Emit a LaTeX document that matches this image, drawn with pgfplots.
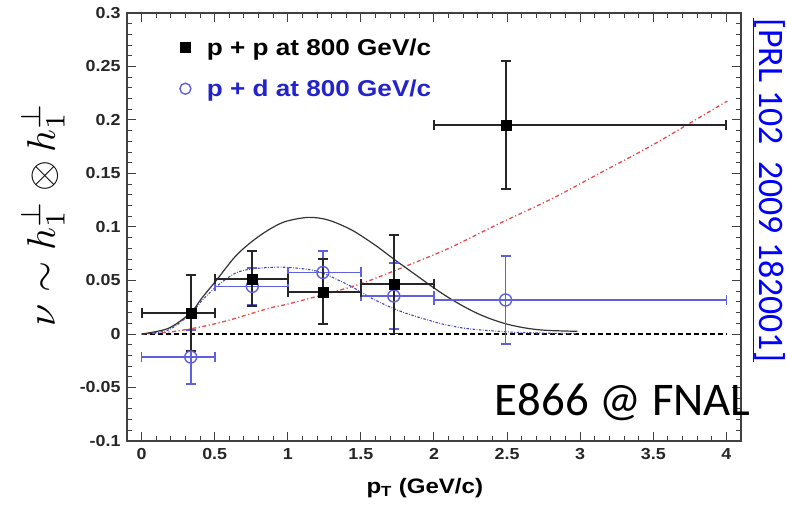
\documentclass[border=0pt]{standalone}
\usepackage[no-math]{fontspec}
\setmainfont{Liberation Sans}
\newfontfamily\carlito{Carlito}
\usepackage{graphicx}
\usepackage{pgfplots}
\pgfplotsset{compat=1.18}
\definecolor{blueD}{RGB}{95,95,225}
\definecolor{blueC}{RGB}{70,70,190}
\definecolor{blueT}{RGB}{35,35,205}
\definecolor{redC}{RGB}{228,75,75}
\newcommand\sx[1]{\scalebox{1.12}[1]{#1}}

\pgfplotstableread{
x     y       xm     xp     ey
0.336 0.0197  0.336  0.164  0.0355
0.757 0.0516  0.257  0.243  0.0256
1.240 0.0395  0.240  0.260  0.0305
1.725 0.0465  0.225  0.275  0.0460
2.495 0.1955  0.495  1.505  0.0600
}\pp
\pgfplotstableread{
x     y        xm     xp     ey
0.336 -0.0215  0.336  0.164  0.0250
0.757 0.0445   0.257  0.243  0.0170
1.240 0.0575   0.240  0.260  0.0200
1.725 0.0355   0.225  0.275  0.0310
2.490 0.0318   0.490  1.510  0.0410
}\pd

\begin{document}
\begin{tikzpicture}
\useasboundingbox (-127bp,-64bp) rectangle (660bp,441bp);
\begin{axis}[
  at={(0,0)}, anchor=south west,
  scale only axis, width=614bp, height=428bp,
  xmin=-0.1, xmax=4.1, ymin=-0.1, ymax=0.3,
  clip=false,
  xtick={0,0.5,1,1.5,2,2.5,3,3.5,4},
  xticklabels={\sx{0},\sx{0.5},\sx{1},\sx{1.5},\sx{2},\sx{2.5},\sx{3},\sx{3.5},\sx{4}},
  ytick={-0.1,-0.05,0,0.05,0.1,0.15,0.2,0.25,0.3},
  yticklabels={\sx{-0.1},\sx{-0.05},\sx{0},\sx{0.05},\sx{0.1},\sx{0.15},\sx{0.2},\sx{0.25},\sx{0.3}},
  minor xtick={-0.1,0,...,4.1},
  minor ytick={-0.1,-0.09,...,0.3},
  tick align=inside,
  major tick length=9bp, minor tick length=5bp,
  every tick/.style={black!75, line width=1bp},
  axis line style={black!75, line width=1.3bp},
  xticklabel style={font=\fontsize{16}{19}\selectfont\bfseries, text=black!85, yshift=-4bp},
  yticklabel style={font=\fontsize{16}{19}\selectfont\bfseries, text=black!85, xshift=-3bp},
  legend style={at={(rel axis cs:0.081,0.950)}, anchor=north west, draw=none, fill=none,
    font=\fontsize{23}{27}\selectfont\bfseries, row sep=19bp, column sep=14bp},
  legend cell align=left,
]
\addlegendimage{only marks, mark=square*, black, mark size=5bp}
\addlegendentry{\scalebox{1.14}[1]{p + p at 800 GeV/c}}
\addlegendimage{only marks, mark=o, blueD, mark size=5.5bp, mark options={line width=1.4bp}}
\addlegendentry{\scalebox{1.14}[1]{\textcolor{blueT}{p + d at 800 GeV/c}}}

% zero line
\addplot[forget plot, black, line width=1.9bp, dash pattern=on 5bp off 3bp] coordinates {(0,0) (4,0)};

% red dash-dot curve
\addplot[forget plot, smooth, redC, line width=1.3bp, dash pattern=on 4bp off 2.5bp on 1.2bp off 2.5bp] coordinates {
(0,0) (0.2,0.002) (0.41,0.0068) (0.6,0.013) (0.87,0.024) (1.0,0.028) (1.25,0.037)
(1.5,0.047) (1.8,0.063) (2.1,0.080) (2.45,0.1035) (2.8,0.126) (3.13,0.150)
(3.5,0.177) (3.96,0.214) (4.0,0.217)};

% blue dotted curve
\addplot[forget plot, smooth, blueC, line width=1.1bp, dash pattern=on 2.5bp off 1.5bp on 0.8bp off 1.5bp] coordinates {
(0,0) (0.183,0.0037) (0.336,0.0190) (0.411,0.0310) (0.513,0.0445) (0.639,0.0567)
(0.753,0.0608) (0.935,0.0625) (1.1,0.0610) (1.232,0.0573) (1.437,0.0442) (1.596,0.0318)
(1.779,0.0208) (1.961,0.0130) (2.075,0.0088) (2.23,0.0050) (2.5,0.0020) (2.75,0.0008) (2.98,0.0004)};

% black solid curve
\addplot[forget plot, smooth, black!80, line width=1.2bp] coordinates {
(0,0) (0.183,0.0053) (0.336,0.0199) (0.411,0.0334) (0.513,0.0505) (0.639,0.0722)
(0.753,0.0863) (0.867,0.0972) (0.981,0.1050) (1.14,0.1090) (1.277,0.1065) (1.437,0.0972)
(1.596,0.0832) (1.733,0.0692) (1.892,0.0536) (2.0,0.0430) (2.1,0.0340) (2.2,0.0260)
(2.3,0.0190) (2.4,0.0135) (2.5,0.0092) (2.6,0.0062) (2.7,0.0042) (2.8,0.0032) (2.98,0.0025)};

% p + d data
\addplot[forget plot, blueD, only marks, mark=o, mark size=6bp, mark options={line width=1.4bp},
  error bars/.cd, x dir=both, x explicit, y dir=both, y explicit,
  error bar style={line width=1.7bp, blueD},
  error mark options={rotate=90, mark size=5bp, line width=1.7bp, blueD}]
  table[x=x, y=y, x error plus=xp, x error minus=xm, y error=ey] {\pd};

% p + p data
\addplot[forget plot, black, only marks, mark=square*, mark size=5bp,
  error bars/.cd, x dir=both, x explicit, y dir=both, y explicit,
  error bar style={line width=1.8bp, black!85},
  error mark options={rotate=90, mark size=5bp, line width=1.8bp, black!85}]
  table[x=x, y=y, x error plus=xp, x error minus=xm, y error=ey] {\pp};

% texts
\node[font=\fontsize{21}{25}\selectfont\bfseries] at (rel axis cs:0.485,-0.11)
  {\scalebox{1.15}[1]{p\textsubscript{T} (GeV/c)}};
\node[rotate=90] at (rel axis cs:-0.137,0.53)
  {\scalebox{4.0}{$\nu\sim h_1^\perp\otimes h_1^\perp$}};
\node[anchor=base west, inner sep=0pt, font=\carlito\fontsize{47}{56}\selectfont]
  at (rel axis cs:0.599,0.0607) {E866 @ FNAL};
\node[rotate=-90, text=blue, font=\carlito\fontsize{36}{42}\selectfont]
  at (rel axis cs:1.045,0.586) {\underline{[PRL 102\ \ 2009 182001]}};
\end{axis}
\end{tikzpicture}
\end{document}
